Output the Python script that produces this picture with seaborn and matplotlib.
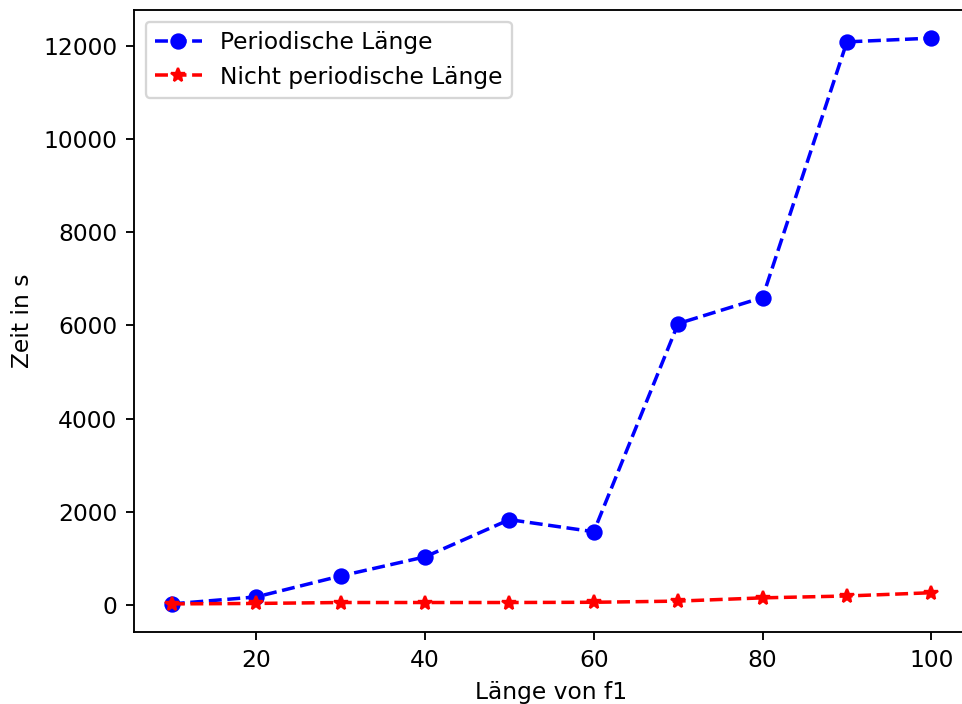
import matplotlib
matplotlib.use("Agg")
import matplotlib.pyplot as plt
import seaborn as sns
import pandas as pd

laenge = [10, 20, 30, 40, 50, 60, 70, 80, 90, 100]
periodisch = [20, 170, 620, 1030, 1830, 1570, 6040, 6600, 12090, 12170]
nicht_periodisch = [20, 30, 50, 50, 50, 55, 80, 150, 190, 260]

sns.set_style("ticks")
plt.rcParams['font.family'] = ['DejaVu Sans']
plt.rcParams['text.color'] = 'black'
plt.rcParams['axes.labelcolor'] = 'black'
plt.rcParams['xtick.color'] = 'black'
plt.rcParams['ytick.color'] = 'black'

DPI = 168
fig, ax = plt.subplots(figsize=(963 / DPI, 704 / DPI), dpi=DPI)
df = pd.DataFrame({"x": laenge, "p": periodisch, "n": nicht_periodisch})
sns.lineplot(data=df, x="x", y="p", ax=ax, color="blue", linestyle="--", marker="o",
             markersize=6, markeredgewidth=1, markeredgecolor="blue",
             label="Periodische Länge", linewidth=1.5)
sns.lineplot(data=df, x="x", y="n", ax=ax, color="red", linestyle="--", marker="*",
             markersize=6, markeredgewidth=1, markeredgecolor="red",
             label="Nicht periodische Länge", linewidth=1.5)

ax.set_xlabel("Länge von f1")
ax.set_ylabel("Zeit in s")
ax.set_xticks([20, 40, 60, 80, 100])
ax.set_yticks([0, 2000, 4000, 6000, 8000, 10000, 12000])
for s in ax.spines.values():
    s.set_visible(True)
    s.set_color("black")
    s.set_linewidth(0.8)
ax.tick_params(direction="out", length=3.5, width=0.8, colors="black")
leg = ax.legend(loc="upper left")
for t in leg.get_texts():
    t.set_color("black")
fig.subplots_adjust(left=0.139, right=1.0065, top=0.986, bottom=0.102)
fig.savefig("out.png", dpi=DPI)
